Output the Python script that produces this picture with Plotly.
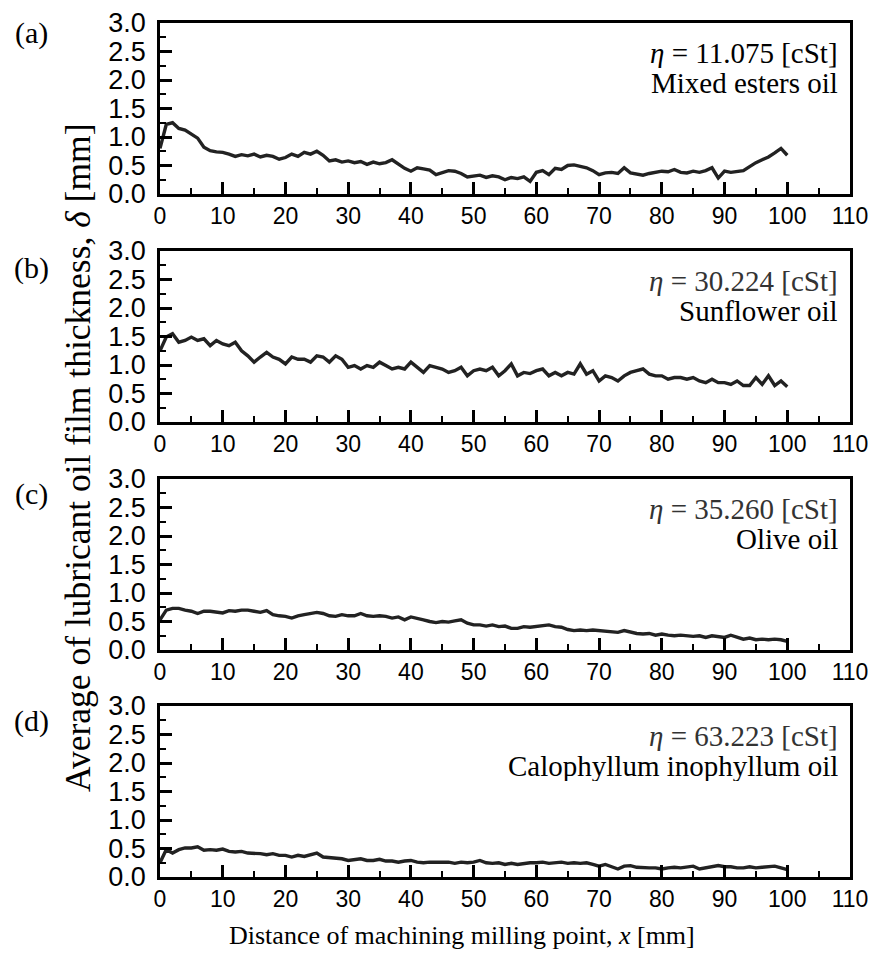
import plotly.graph_objects as go

x_mm = list(range(0, 101))

mixed_esters = [0.80, 1.22, 1.25, 1.15, 1.12, 1.05, 0.98, 0.82, 0.76, 0.74,
                0.73, 0.70, 0.66, 0.69, 0.67, 0.70, 0.65, 0.68, 0.66, 0.61,
                0.64, 0.70, 0.66, 0.73, 0.70, 0.75, 0.68, 0.58, 0.60, 0.56,
                0.58, 0.55, 0.57, 0.52, 0.56, 0.53, 0.55, 0.60, 0.52, 0.45,
                0.40, 0.46, 0.44, 0.42, 0.34, 0.38, 0.41, 0.40, 0.36, 0.30,
                0.31, 0.33, 0.29, 0.32, 0.30, 0.25, 0.29, 0.27, 0.30, 0.22,
                0.38, 0.41, 0.34, 0.45, 0.43, 0.50, 0.51, 0.48, 0.46, 0.41,
                0.34, 0.37, 0.38, 0.36, 0.46, 0.37, 0.35, 0.33, 0.36, 0.38,
                0.40, 0.39, 0.43, 0.38, 0.37, 0.40, 0.38, 0.41, 0.46, 0.28,
                0.40, 0.38, 0.40, 0.41, 0.48, 0.55, 0.60, 0.65, 0.72, 0.80,
                0.68]

sunflower = [1.25, 1.49, 1.55, 1.40, 1.43, 1.49, 1.43, 1.46, 1.34, 1.43,
             1.37, 1.34, 1.40, 1.25, 1.16, 1.05, 1.14, 1.22, 1.14, 1.10,
             1.02, 1.14, 1.10, 1.10, 1.05, 1.16, 1.14, 1.05, 1.16, 1.10,
             0.96, 0.99, 0.93, 0.99, 0.96, 1.05, 0.99, 0.93, 0.96, 0.93,
             1.05, 0.96, 0.87, 0.99, 0.96, 0.93, 0.87, 0.90, 0.96, 0.81,
             0.90, 0.93, 0.90, 0.96, 0.81, 0.90, 1.02, 0.81, 0.87, 0.85,
             0.90, 0.93, 0.81, 0.87, 0.81, 0.87, 0.84, 1.02, 0.84, 0.90,
             0.72, 0.81, 0.78, 0.72, 0.81, 0.87, 0.90, 0.93, 0.84, 0.81,
             0.81, 0.75, 0.78, 0.78, 0.75, 0.78, 0.72, 0.69, 0.75, 0.69,
             0.69, 0.66, 0.72, 0.64, 0.64, 0.78, 0.66, 0.81, 0.64, 0.72,
             0.62]

olive = [0.53, 0.70, 0.73, 0.73, 0.70, 0.68, 0.64, 0.68, 0.68, 0.66,
         0.65, 0.69, 0.68, 0.70, 0.70, 0.68, 0.66, 0.69, 0.62, 0.60,
         0.59, 0.56, 0.60, 0.62, 0.64, 0.66, 0.64, 0.60, 0.59, 0.62,
         0.60, 0.60, 0.64, 0.60, 0.59, 0.60, 0.59, 0.56, 0.58, 0.53,
         0.58, 0.56, 0.53, 0.50, 0.48, 0.50, 0.49, 0.51, 0.53, 0.47,
         0.44, 0.44, 0.42, 0.44, 0.41, 0.42, 0.38, 0.38, 0.41, 0.40,
         0.41, 0.42, 0.44, 0.41, 0.40, 0.36, 0.34, 0.35, 0.34, 0.35,
         0.34, 0.32, 0.31, 0.31, 0.34, 0.31, 0.29, 0.28, 0.29, 0.26,
         0.28, 0.26, 0.25, 0.26, 0.25, 0.24, 0.25, 0.22, 0.25, 0.24,
         0.22, 0.26, 0.22, 0.19, 0.21, 0.18, 0.19, 0.18, 0.19, 0.18,
         0.15]

calophyllum = [0.25, 0.48, 0.42, 0.48, 0.51, 0.51, 0.53, 0.47, 0.48, 0.47,
               0.49, 0.45, 0.44, 0.45, 0.42, 0.42, 0.41, 0.39, 0.41, 0.38,
               0.38, 0.35, 0.38, 0.36, 0.39, 0.42, 0.35, 0.34, 0.32, 0.32,
               0.29, 0.31, 0.32, 0.29, 0.29, 0.31, 0.28, 0.28, 0.26, 0.28,
               0.29, 0.26, 0.25, 0.26, 0.26, 0.25, 0.26, 0.24, 0.26, 0.25,
               0.26, 0.29, 0.25, 0.24, 0.25, 0.22, 0.24, 0.22, 0.24, 0.25,
               0.25, 0.26, 0.24, 0.25, 0.26, 0.24, 0.25, 0.24, 0.25, 0.22,
               0.19, 0.22, 0.18, 0.14, 0.19, 0.20, 0.17, 0.16, 0.16, 0.16,
               0.14, 0.16, 0.17, 0.16, 0.18, 0.19, 0.14, 0.16, 0.19, 0.20,
               0.18, 0.18, 0.16, 0.16, 0.18, 0.16, 0.17, 0.18, 0.19, 0.16,
               0.13]

series = [mixed_esters, sunflower, olive, calophyllum]
panel_labels = ["(a)", "(b)", "(c)", "(d)"]
viscosities = ["11.075", "30.224", "35.260", "63.223"]
oil_names = ["Mixed esters oil", "Sunflower oil", "Olive oil", "Calophyllum inophyllum oil"]
x_ticks = list(range(0, 111, 10))
y_ticks = [0.0, 0.5, 1.0, 1.5, 2.0, 2.5, 3.0]

# The page body has an 8px margin, so the figure is drawn 8px smaller and
# positions are given in window pixels minus that offset.
OFF = 8
W, H = 876 - OFF, 958 - OFF
px_left, px_right = 160, 850
panel_tops = [23, 251, 479, 706]
panel_h = 171

def fx(px):
    return (px - OFF) / W

def fy(py):
    return 1 - (py - OFF) / H

fig = go.Figure()
layout = dict(
    width=W, height=H,
    margin=dict(l=0, r=0, t=0, b=0, autoexpand=False),
    paper_bgcolor="white", plot_bgcolor="white",
    showlegend=False,
    annotations=[],
)

sans = "Liberation Sans, Arial, sans-serif"
serif = "Liberation Serif, Times New Roman, serif"

for i, ys in enumerate(series):
    n = "" if i == 0 else str(i + 1)
    fig.add_trace(go.Scatter(x=x_mm, y=ys, mode="lines",
                             line=dict(color="#222222", width=3.4),
                             xaxis="x" + n, yaxis="y" + n))
    top = panel_tops[i]
    bot = top + panel_h
    layout["xaxis" + n] = dict(
        domain=[fx(px_left), fx(px_right)], anchor="y" + n,
        range=[0, 110], tickvals=x_ticks, ticktext=[str(t) for t in x_ticks],
        ticks="inside", ticklen=12, tickwidth=2.5, tickcolor="black",
        minor=dict(ticks="inside", ticklen=6, tickwidth=2, dtick=5, tick0=0, tickcolor="black"),
        showline=True, linecolor="black", linewidth=2.5, mirror=True,
        showgrid=False, zeroline=False, automargin=False,
        tickfont=dict(family=sans, size=23, color="black"),
        ticklabelstandoff=0,
    )
    layout["yaxis" + n] = dict(
        domain=[fy(bot), fy(top)], anchor="x" + n,
        range=[0, 3.0], tickvals=y_ticks, ticktext=["%.1f" % t for t in y_ticks],
        ticks="inside", ticklen=12, tickwidth=2.5, tickcolor="black",
        minor=dict(ticks="inside", ticklen=6, tickwidth=2, dtick=0.25, tick0=0, tickcolor="black"),
        showline=True, linecolor="black", linewidth=2.5, mirror=True,
        showgrid=False, zeroline=False, automargin=False,
        tickfont=dict(family=sans, size=27, color="black"),
        ticklabelstandoff=6,
    )
    color1 = "black" if i == 0 else "#333333"
    layout["annotations"].append(dict(
        text="<i>η</i> = %s [cSt]" % viscosities[i], xref="paper", yref="paper",
        x=fx(839), y=fy(top + 30), xanchor="right", yanchor="middle",
        height=30, valign="middle", borderpad=0,
        showarrow=False, font=dict(family=serif, size=29, color=color1)))
    layout["annotations"].append(dict(
        text=oil_names[i], xref="paper", yref="paper",
        x=fx(839), y=fy(top + 60), xanchor="right", yanchor="middle",
        height=30, valign="middle", borderpad=0,
        showarrow=False, font=dict(family=serif, size=29, color="black")))

label_y = [33, 268, 494, 721]
for i, lab in enumerate(panel_labels):
    layout["annotations"].append(dict(
        text=lab, xref="paper", yref="paper", x=fx(31), y=fy(label_y[i]),
        xanchor="center", yanchor="middle", showarrow=False,
        font=dict(family=serif, size=30, color="black")))

layout["annotations"].append(dict(
    text="Average of lubricant oil film thickness, <i>δ</i> [mm]",
    xref="paper", yref="paper", x=fx(78), y=fy(458), textangle=-90,
    xanchor="center", yanchor="middle", showarrow=False,
    font=dict(family=serif, size=35.5, color="black")))

layout["annotations"].append(dict(
    text="Distance of machining milling point, <i>x</i> [mm]",
    xref="paper", yref="paper", x=fx(462), y=fy(935),
    xanchor="center", yanchor="middle", showarrow=False,
    font=dict(family=serif, size=26, color="black")))

fig.update_layout(**layout)
fig.write_html("out.html")
